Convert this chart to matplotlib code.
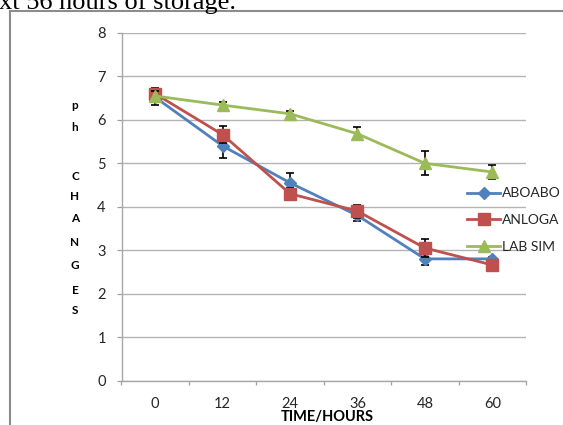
import matplotlib
matplotlib.use("Agg")
import matplotlib.pyplot as plt
from matplotlib.lines import Line2D
import numpy as np

# ---- data ----
hours = ["0", "12", "24", "36", "48", "60"]
aboabo = [6.52, 5.40, 4.55, 3.80, 2.80, 2.80]
aboabo_err = [0.17, 0.27, 0.22, 0.13, 0.13, 0.05]
anloga = [6.60, 5.66, 4.30, 3.90, 3.05, 2.66]
anloga_err = [0.14, 0.20, 0.13, 0.15, 0.20, 0.05]
labsim = [6.55, 6.34, 6.14, 5.68, 5.00, 4.80]
labsim_err = [0.12, 0.07, 0.07, 0.15, 0.28, 0.15]
series_names = ["ABOABO", "ANLOGA", "LAB SIM"]
y_ticks = [0, 1, 2, 3, 4, 5, 6, 7, 8]
ylabel_letters = ["p", "h", "C", "H", "A", "N", "G", "E", "S"]

W, H = 563, 425
fig = plt.figure(figsize=(W / 100, H / 100), dpi=100)
fig.patch.set_facecolor("white")
FONT = "Lato"

def fx(px):
    return px / W

def fy(py):
    return 1 - py / H

# cut-off caption above the chart
fig.text(fx(-1), fy(8.5), "xt 56 hours of storage.", family="Liberation Serif",
         fontsize=19, ha="left", va="baseline", color="black")

# outer frame (left and top)
frame_col = "#8c8c8c"
fig.add_artist(Line2D([fx(10), fx(10)], [fy(11), fy(H + 5)], color=frame_col, lw=1.5))
fig.add_artist(Line2D([fx(10), fx(W + 5)], [fy(11), fy(11)], color=frame_col, lw=1.5))

left, right, top, bottom = 121.5, 526, 33, 380.5
ax = fig.add_axes([fx(left), fy(bottom), fx(right - left), (bottom - top) / H])
x = np.arange(len(hours))

colors = ["#4F81BD", "#C0504D", "#9BBB59"]
markers = ["D", "s", "^"]
msizes = [6.5, 8.5, 8.5]
datas = [aboabo, anloga, labsim]
errs = [aboabo_err, anloga_err, labsim_err]
for i in range(3):
    ax.errorbar(x, datas[i], yerr=errs[i], fmt="none", ecolor="black",
                elinewidth=1.2, capsize=2.6, capthick=1.2, zorder=3 + 2 * i)
    ax.plot(x, datas[i], color=colors[i], lw=2.0, marker=markers[i],
            markersize=msizes[i], markeredgecolor=colors[i], label=series_names[i],
            zorder=4 + 2 * i)

ax.set_xlim(-0.5, len(hours) - 0.5)
ax.set_ylim(0, 8)
ax.set_yticks(y_ticks)
ax.set_yticklabels([str(t) for t in y_ticks], family=FONT, fontsize=10.5, color="#262626")
ax.set_xticks(x)
ax.set_xticklabels(hours, family=FONT, fontsize=10.5, color="#262626")
ax.set_xticks(np.arange(-0.5, len(hours)), minor=True)
ax.tick_params(axis="x", which="major", length=0, pad=12)
ax.tick_params(axis="x", which="minor", length=3.2, width=0.9, color="#a0a0a0", direction="out")
ax.tick_params(axis="y", which="major", length=3.8, width=0.9, color="#a0a0a0", pad=7.5)

ax.grid(axis="y", color="#b4b4b4", lw=1.0, zorder=0)
ax.set_axisbelow(True)
for s in ["top", "right"]:
    ax.spines[s].set_visible(False)
for s in ["left", "bottom"]:
    ax.spines[s].set_color("#a8a8a8")
    ax.spines[s].set_linewidth(1.0)

# x label
fig.text(fx(281), fy(416.5), "TIME/HOURS", family=FONT, fontweight="bold",
         fontsize=10.5, ha="left", va="center", color="black")

# stacked vertical y label
baselines = [109, 131.5, 180.5, 200.5, 222.5, 246.5, 269, 293.5, 314]
for ch, b in zip(ylabel_letters, baselines):
    fig.text(fx(75), fy(b), ch, family=FONT, fontweight="bold", fontsize=8.5,
             ha="center", va="baseline", color="black")

leg = ax.legend(loc="center left", bbox_to_anchor=(fx(467), fy(220)),
                bbox_transform=fig.transFigure, frameon=False,
                prop={"family": FONT, "size": 10}, handlelength=2.4,
                handletextpad=0.12, labelspacing=1.05, borderpad=0, borderaxespad=0)
for t in leg.get_texts():
    t.set_color("#262626")

fig.savefig("out.png", dpi=100, facecolor="white")
